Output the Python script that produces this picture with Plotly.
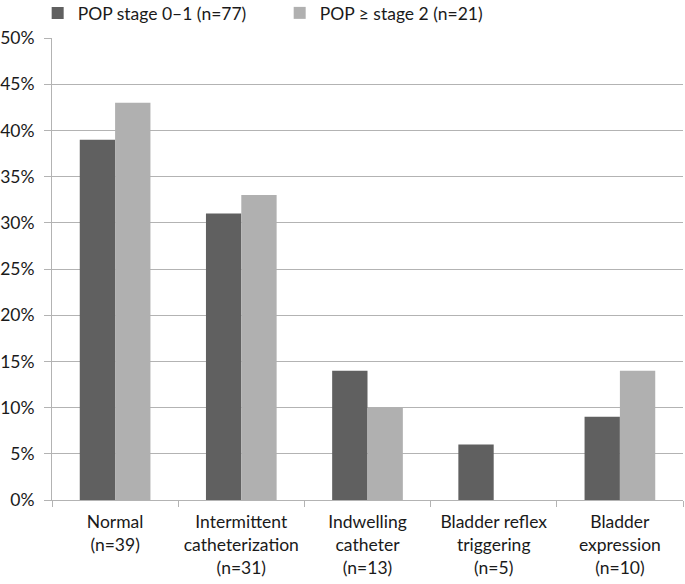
import plotly.graph_objects as go

categories = ["Normal<br>(n=39)", "Intermittent<br>catheterization<br>(n=31)", "Indwelling<br>catheter<br>(n=13)",
              "Bladder reflex<br>triggering<br>(n=5)", "Bladder<br>expression<br>(n=10)"]
stage01 = [0.39, 0.31, 0.14, 0.06, 0.09]
stage2 = [0.43, 0.33, 0.10, 0.0, 0.14]
names = ["POP stage 0\u20131 (n=77)", "POP \u2265 stage 2 (n=21)"]

font = dict(family="Lato, 'Open Sans', sans-serif", size=17.5, color="#1a1a1a")

fig = go.Figure()
fig.add_trace(go.Bar(x=categories, y=stage01, name=names[0], marker=dict(color="#606060", line_width=0)))
fig.add_trace(go.Bar(x=categories, y=stage2, name=names[1], marker=dict(color="#b0b0b0", line_width=0)))

fig.update_layout(
    width=685, height=584,
    margin=dict(l=52, r=2, t=38, b=84, autoexpand=False),
    paper_bgcolor="white", plot_bgcolor="white",
    font=font,
    barmode="group", bargap=0.44, bargroupgap=0,
    legend=dict(orientation="h", xref="container", x=0.055, xanchor="left",
                yref="container", y=1 - 13 / 584, yanchor="middle",
                font=font, itemwidth=30, traceorder="normal", entrywidth=197,
                bgcolor="rgba(0,0,0,0)"),
    showlegend=True,
)
fig.update_yaxes(range=[0, 0.5], dtick=0.05, tickformat=".0%", showgrid=True, gridcolor="#b3b3b3",
                 gridwidth=1, showline=True, linecolor="#b3b3b3", ticks="outside", ticklen=7,
                 tickcolor="#b3b3b3", zeroline=False, tickfont=font, automargin=False,
                 ticklabelstandoff=6)
fig.update_xaxes(showline=True, linecolor="#b3b3b3", ticks="outside", tickson="boundaries", ticklen=6,
                 tickcolor="#b3b3b3", tickfont=font, tickangle=0, automargin=False,
                 ticklabelstandoff=6)

fig.write_html("out.html", config={"displayModeBar": False},
               post_script="document.body.style.margin='0px';")
